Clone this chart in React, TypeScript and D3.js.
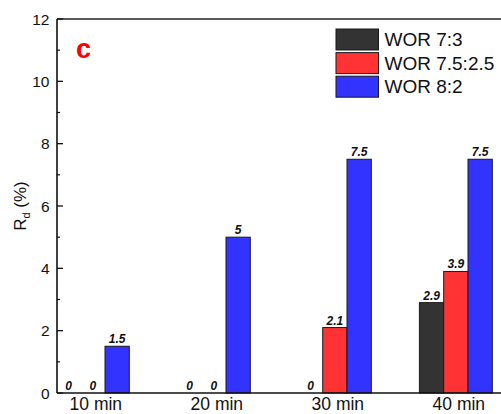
import React from "react";
import * as d3 from "d3";

const categories = ["10 min", "20 min", "30 min", "40 min"];
const seriesNames = ["WOR 7:3", "WOR 7.5:2.5", "WOR 8:2"];
const wor73 = [0, 0, 0, 2.9];
const wor7525 = [0, 0, 2.1, 3.9];
const wor82 = [1.5, 5, 7.5, 7.5];
const yTicks = [0, 2, 4, 6, 8, 10, 12];
const yMinorTicks = [1, 3, 5, 7, 9, 11];

const seriesValues = [wor73, wor7525, wor82];
const colors = ["#333333", "#ff3333", "#3333ff"];

export default function App() {
  const W = 501, H = 414;
  const left = 57, top = 19, bottom = 393;
  const y = d3.scaleLinear().domain([0, 12]).range([bottom, top]);
  const x0 = d3.scaleLinear().domain([0, 3]).range([92.85, 455.85]);
  const groupW = 72.9;
  const x1 = d3.scaleBand<string>().domain(seriesNames).range([-groupW / 2, groupW / 2]).padding(0);
  const bw = x1.bandwidth();
  const font = "Arial, 'Liberation Sans', sans-serif";

  return (
    <svg width={W} height={H} style={{ position: "absolute", left: 0, top: 0, display: "block" }} fontFamily={font}>
      <rect width={W} height={H} fill="#fff" />
      {/* bars */}
      {categories.map((c, i) => (
        <g key={c}>
          {seriesNames.map((s, k) => {
            const v = seriesValues[k][i];
            const bx = x0(i) + (x1(s) as number);
            return (
              <g key={s}>
                {v > 0 && (
                  <rect x={bx} y={y(v)} width={bw} height={y(0) - y(v)} fill={colors[k]} stroke="#1a1a1a" strokeWidth={1} />
                )}
                <text x={bx + bw / 2} y={y(v) - 3} textAnchor="middle" fontSize={12} fontStyle="italic" fontWeight="bold" fill="#111">
                  {d3.format("~g")(v)}
                </text>
              </g>
            );
          })}
          <text x={x0(i) + 3} y={410} textAnchor="middle" fontSize={17.5} fill="#111">{c}</text>
        </g>
      ))}
      {/* axes */}
      <line x1={left} x2={W + 5} y1={top} y2={top} stroke="#222" strokeWidth={1.6} />
      <line x1={left} x2={W + 5} y1={bottom} y2={bottom} stroke="#111" strokeWidth={1.6} />
      <line x1={left} x2={left} y1={top} y2={bottom} stroke="#111" strokeWidth={1.6} />
      {yTicks.map((t) => (
        <g key={t}>
          <line x1={left} x2={left + 6} y1={y(t)} y2={y(t)} stroke="#111" strokeWidth={1.3} />
          <text x={49.5} y={y(t) + 5.5} textAnchor="end" fontSize={15.5} fill="#111">{t}</text>
        </g>
      ))}
      {yMinorTicks.map((t) => (
        <line key={t} x1={left} x2={left + 3} y1={y(t)} y2={y(t)} stroke="#111" strokeWidth={1.2} />
      ))}
      {/* y label */}
      <text transform={`translate(26, ${(top + bottom) / 2}) rotate(-90)`} textAnchor="middle" fontSize={17} fill="#111">
        R<tspan fontSize={11} dy={4}>d</tspan><tspan dy={-4}> (%)</tspan>
      </text>
      {/* panel letter */}
      <text x={76} y={58} fontSize={27} fontWeight="bold" fill="#ff0000">c</text>
      {/* legend */}
      {seriesNames.map((s, k) => (
        <g key={s} transform={`translate(336, ${29 + k * 23.6})`}>
          <rect x={0} y={0} width={42.5} height={21} fill={colors[k]} stroke="#1a1a1a" strokeWidth={1} />
          <text x={48.5} y={17} fontSize={19} fill="#111">{s}</text>
        </g>
      ))}
    </svg>
  );
}
